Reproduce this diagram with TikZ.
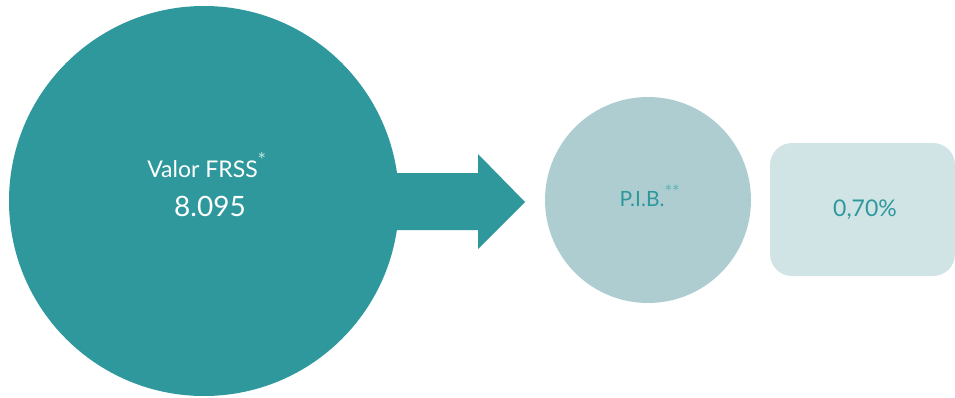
\documentclass[tikz,border=0pt]{standalone}
\usepackage{fontspec}
\setmainfont{Lato}
\definecolor{teal1}{HTML}{2E989C}
\definecolor{tealmid}{HTML}{ADCDD0}
\definecolor{teallight}{HTML}{D0E3E5}
\definecolor{starlight}{HTML}{BFE3E3}
\definecolor{starmid}{HTML}{5FB3B6}
\begin{document}
\begin{tikzpicture}[x=1pt,y=1pt,
  bigcircle/.style={circle,fill=teal1,minimum size=390pt,inner sep=0pt},
  midcircle/.style={circle,fill=tealmid,minimum size=206pt,inner sep=0pt},
  valbox/.style={rounded corners=22pt,fill=teallight,minimum width=185pt,minimum height=133pt,inner sep=0pt},
  lbl/.style={anchor=base,inner sep=0pt}]
\useasboundingbox (0,0) rectangle (955,397);
\node[bigcircle] (big) at (204,196) {};
\fill[teal1] (380,224) -- (478,224) -- (478,243) -- (525,195) -- (478,148) -- (478,167) -- (380,167) -- cycle;
\node[midcircle] (pib) at (648,197) {};
\node[valbox] (val) at (862.5,187.5) {};
\node[lbl,text=white,font=\fontsize{23}{27}\selectfont] (t1) at (207,220) {Valor FRSS\textsuperscript{\textcolor{starlight}{\fontsize{20}{20}\selectfont *}}};
\node[lbl,text=white,font=\fontsize{28}{32}\selectfont] (t2) at (210,181) {8.095};
\node[lbl,text=teal1,font=\fontsize{21}{25}\selectfont] (t3) at (650,191) {P.I.B.\textsuperscript{\textcolor{starmid}{\fontsize{18}{18}\selectfont **}}};
\node[lbl,text=teal1,font=\fontsize{23}{27}\selectfont] (t4) at (865,181) {0,70\%};
\end{tikzpicture}
\end{document}
